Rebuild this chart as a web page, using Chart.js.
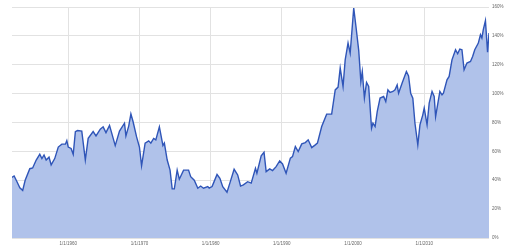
<!DOCTYPE html>
<html>
<head>
<meta charset="utf-8">
<script src="https://cdn.jsdelivr.net/npm/chart.js@4.4.0/dist/chart.umd.min.js"></script>
<style>
html,body{margin:0;padding:0;background:#fff;}
#wrap{width:520px;height:245px;position:relative;}
</style>
</head>
<body>
<div id="wrap"><canvas id="c" width="520" height="245"></canvas></div>
<script>
const years = [1952.1,1952.4,1952.8,1953.2,1953.6,1953.95,1954.6,1955.0,1955.5,1956.0,1956.3,1956.6,1956.9,1957.3,1957.6,1958.1,1958.6,1959.1,1959.6,1959.8,1960.0,1960.4,1960.7,1961.0,1961.3,1961.9,1962.4,1962.8,1963.5,1963.9,1964.5,1964.9,1965.3,1965.8,1966.6,1967.2,1967.9,1968.1,1968.5,1968.8,1969.1,1969.6,1970.0,1970.3,1970.8,1971.3,1971.6,1972.0,1972.3,1972.8,1973.3,1973.5,1973.9,1974.3,1974.6,1974.9,1975.3,1975.6,1976.2,1976.9,1977.2,1977.7,1978.2,1978.6,1979.0,1979.6,1979.8,1980.2,1980.4,1980.9,1981.3,1981.7,1982.3,1982.7,1983.3,1983.8,1984.2,1984.6,1985.2,1985.7,1986.3,1986.5,1987.1,1987.5,1987.8,1988.3,1988.7,1989.2,1989.7,1990.1,1990.6,1991.2,1991.5,1991.9,1992.3,1992.8,1993.3,1993.7,1994.2,1994.7,1995.0,1995.6,1996.3,1997.0,1997.5,1997.9,1998.2,1998.6,1998.9,1999.3,1999.6,2000.1,2000.4,2000.8,2001.1,2001.3,2001.6,2001.9,2002.2,2002.6,2002.8,2003.1,2003.4,2003.8,2004.3,2004.6,2004.9,2005.2,2005.6,2005.9,2006.2,2006.4,2006.9,2007.5,2007.8,2008.1,2008.4,2008.7,2009.1,2009.4,2009.8,2010.0,2010.4,2010.7,2011.1,2011.4,2011.6,2012.2,2012.5,2012.7,2013.2,2013.5,2013.9,2014.4,2014.7,2015.0,2015.3,2015.6,2016.0,2016.5,2016.8,2017.1,2017.6,2017.9,2018.1,2018.3,2018.6,2018.9,2019.1];
const values = [42,43,39,34.7,33,40,48,48.5,54,58,55,57.5,54,56,50.6,55,63,65,65,67.5,63,62,58,73.7,74.4,74,54,69,73.7,70.7,75.4,77,73,78,64,74,79.5,70.7,77.7,86,80.7,70,63,50,65.7,67.3,65.7,69,68,77,64,65.7,54,47,34,34,47,40.7,47,47,42.5,40,34.5,36,34.5,35.6,34.5,35.6,38,44,41.4,35.6,31.7,38,47.6,43.7,36,36.8,39,38,48.3,44.9,56.9,59.4,46,47.9,46.7,49.4,53.4,51.3,44.9,55.3,56.4,63.3,59.9,65.2,66.1,68,62.6,64.5,65.7,77.2,85.8,85.8,102.6,104.5,117.7,105,123.4,135,128,159.3,147,130,108.4,115.3,97,107.7,105,76,79.5,77.2,87.6,96.9,98,94.5,102.6,100.8,101.5,102.6,106,100.3,107.3,115.3,112.3,100.3,96.9,79.5,64.5,78.4,85.3,90,78.4,93.4,101.5,98,84,101.5,99.2,100.3,109.6,111.9,123.4,130.4,127.6,130.9,130.4,116.5,121.2,122.3,125.7,130.4,135,140.8,138.5,144.3,150.5,128.7,142];
const xTicks = [1960,1970,1980,1990,2000,2010];
const yTicks = [0,20,40,60,80,100,120,140,160];

const pts = years.map((y,i)=>({x:y, y:values[i]}));

new Chart(document.getElementById('c'), {
  type: 'line',
  data: { datasets: [{
    data: pts,
    borderColor: '#2f55b8',
    borderWidth: 1.4,
    backgroundColor: '#b0c2ea',
    fill: 'origin',
    pointRadius: 0,
    tension: 0
  }]},
  options: {
    responsive: false,
    animation: false,
    events: [],
    layout: { padding: { left: 12, top: 7, right: 0, bottom: 0 } },
    plugins: { legend: { display: false }, tooltip: { enabled: false } },
    scales: {
      x: {
        type: 'linear',
        min: 1952.1, max: 2019.1,
        afterBuildTicks: s => { s.ticks = xTicks.map(v=>({value:v})); },
        afterFit: s => { s.height = 7; },
        grid: { color: '#e2e2e2', lineWidth: 1, drawTicks: false },
        border: { display: false },
        ticks: { padding: 3, maxRotation: 0, autoSkip: false, color: '#666', font: { size: 4.5, family: 'Arial, Liberation Sans' }, callback: v => '1/1/' + v }
      },
      y: {
        position: 'right',
        min: 0, max: 160,
        afterBuildTicks: s => { s.ticks = yTicks.map(v=>({value:v})); },
        afterFit: s => { s.width = 31; },
        grid: { color: '#e2e2e2', lineWidth: 1, drawTicks: false },
        border: { display: false },
        ticks: { padding: 3, color: '#666', font: { size: 4.5, family: 'Arial, Liberation Sans' }, callback: v => v + '%' }
      }
    }
  }
});
</script>
</body>
</html>
